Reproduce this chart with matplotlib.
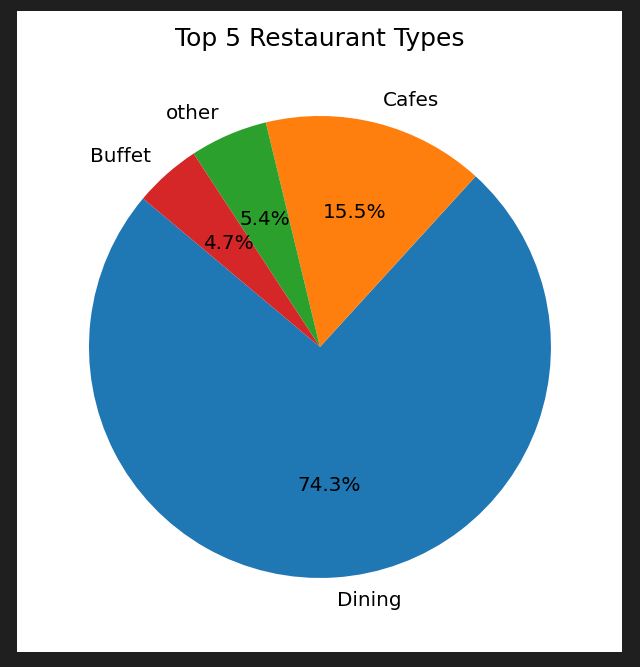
import matplotlib.pyplot as plt
from matplotlib.patches import Rectangle

# Restaurant type shares (percent)
labels = ['Dining', 'Cafes', 'other', 'Buffet']
shares = [74.34, 15.54, 5.44, 4.68]

fig = plt.figure(figsize=(640 / 144, 667 / 144), dpi=144, facecolor='#1f1f1f')

# white figure area inside the dark notebook frame
fig.patches.append(Rectangle((17 / 640, 1 - 652 / 667), 605 / 640, 641 / 667,
                             transform=fig.transFigure, facecolor='white',
                             edgecolor='none', zorder=-10))

ax = fig.add_axes([0.0488, 0.0469, 0.9023, 0.8658])
ax.set_facecolor('none')
ax.pie(shares, labels=labels, autopct='%1.1f%%', startangle=140)
ax.set_title('Top 5 Restaurant Types', fontsize=12.5)

plt.savefig('out.png', dpi=144, facecolor=fig.get_facecolor())
